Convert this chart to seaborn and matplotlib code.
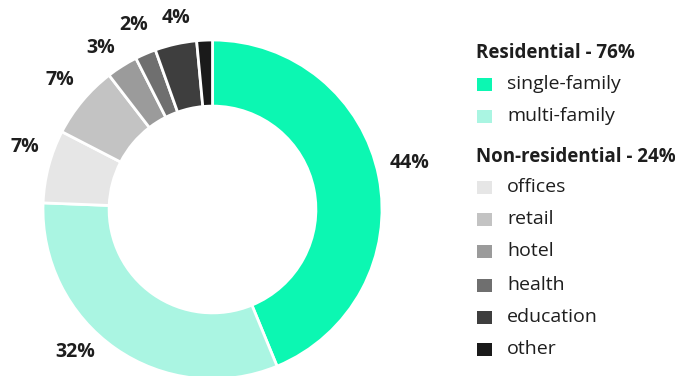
import matplotlib
matplotlib.use("Agg")
import matplotlib.pyplot as plt
from matplotlib.patches import Rectangle
import seaborn as sns

# Building stock by use type (share of floor area, %)
categories = ["single-family", "multi-family", "offices", "retail",
              "hotel", "health", "education", "other"]
shares = [44, 32, 7, 7, 3, 2, 4, 1.5]
pct_labels = ["44%", "32%", "7%", "7%", "3%", "2%", "4%", ""]
colors = ["#0cf7b2", "#aaf5e2", "#e6e6e6", "#c3c3c3",
          "#9b9b9b", "#6f6f6f", "#3e3e3e", "#1a1a1a"]

group_titles = ["Residential - 76%", "Non-residential - 24%"]

sns.set_theme(style="white")
plt.rcParams["font.family"] = ["Open Sans", "DejaVu Sans"]

W, H = 675, 376
fig = plt.figure(figsize=(W / 100, H / 100), dpi=100)
fig.patch.set_facecolor("white")

# Axes spans the whole figure; limits chosen so one data unit = ring radius in pixels
cx, cy, R = 212.5, 209.5, 169.5
ax = fig.add_axes([0, 0, 1, 1])

wedges, texts = ax.pie(
    shares,
    colors=colors,
    labels=pct_labels,
    labeldistance=1.17,
    startangle=90,
    counterclock=False,
    radius=1.0,
    wedgeprops=dict(width=0.39, edgecolor="white", linewidth=2),
    textprops=dict(fontsize=14, fontweight="bold", color="#1e1e1e",
                   ha="center", va="center"),
    frame=True,
)
ax.set_xlim(-cx / R, (W - cx) / R)
ax.set_ylim(-(H - cy) / R, cy / R)
ax.axis("off")

# Hand-placed percentage labels (pixel anchors, top-left origin)
label_px = [(410, 163), (75, 352), (25, 147), (60, 80),
            (101, 48), (134, 25), (176, 18), None]
for t, p in zip(texts, label_px):
    if p is not None:
        t.set_position(((p[0] - cx) / R, (cy - p[1]) / R))

# Grouped legend on the right
def fx(px):
    return px / W

def fy(py):
    return 1 - py / H

title_x, item_x, sq_x = 476, 507, 477
sq_w, sq_h = 15, 13
rows = [
    ("title", group_titles[0], 53),
    ("item", "single-family", 84),
    ("item", "multi-family", 116),
    ("title", group_titles[1], 157),
    ("item", "offices", 187),
    ("item", "retail", 219),
    ("item", "hotel", 251),
    ("item", "health", 285),
    ("item", "education", 317),
    ("item", "other", 349),
]
color_of = dict(zip(categories, colors))
for kind, text, y in rows:
    if kind == "title":
        fig.text(fx(title_x), fy(y), text, fontsize=13.5, fontweight="bold",
                 color="#1e1e1e", ha="left", va="center")
    else:
        fig.patches.append(Rectangle((fx(sq_x), fy(y + sq_h / 2)),
                                     fx(sq_w), sq_h / H,
                                     transform=fig.transFigure,
                                     facecolor=color_of[text], edgecolor="none"))
        fig.text(fx(item_x), fy(y), text, fontsize=14, color="#1e1e1e",
                 ha="left", va="center")

fig.savefig("out.png", dpi=100, facecolor="white")
